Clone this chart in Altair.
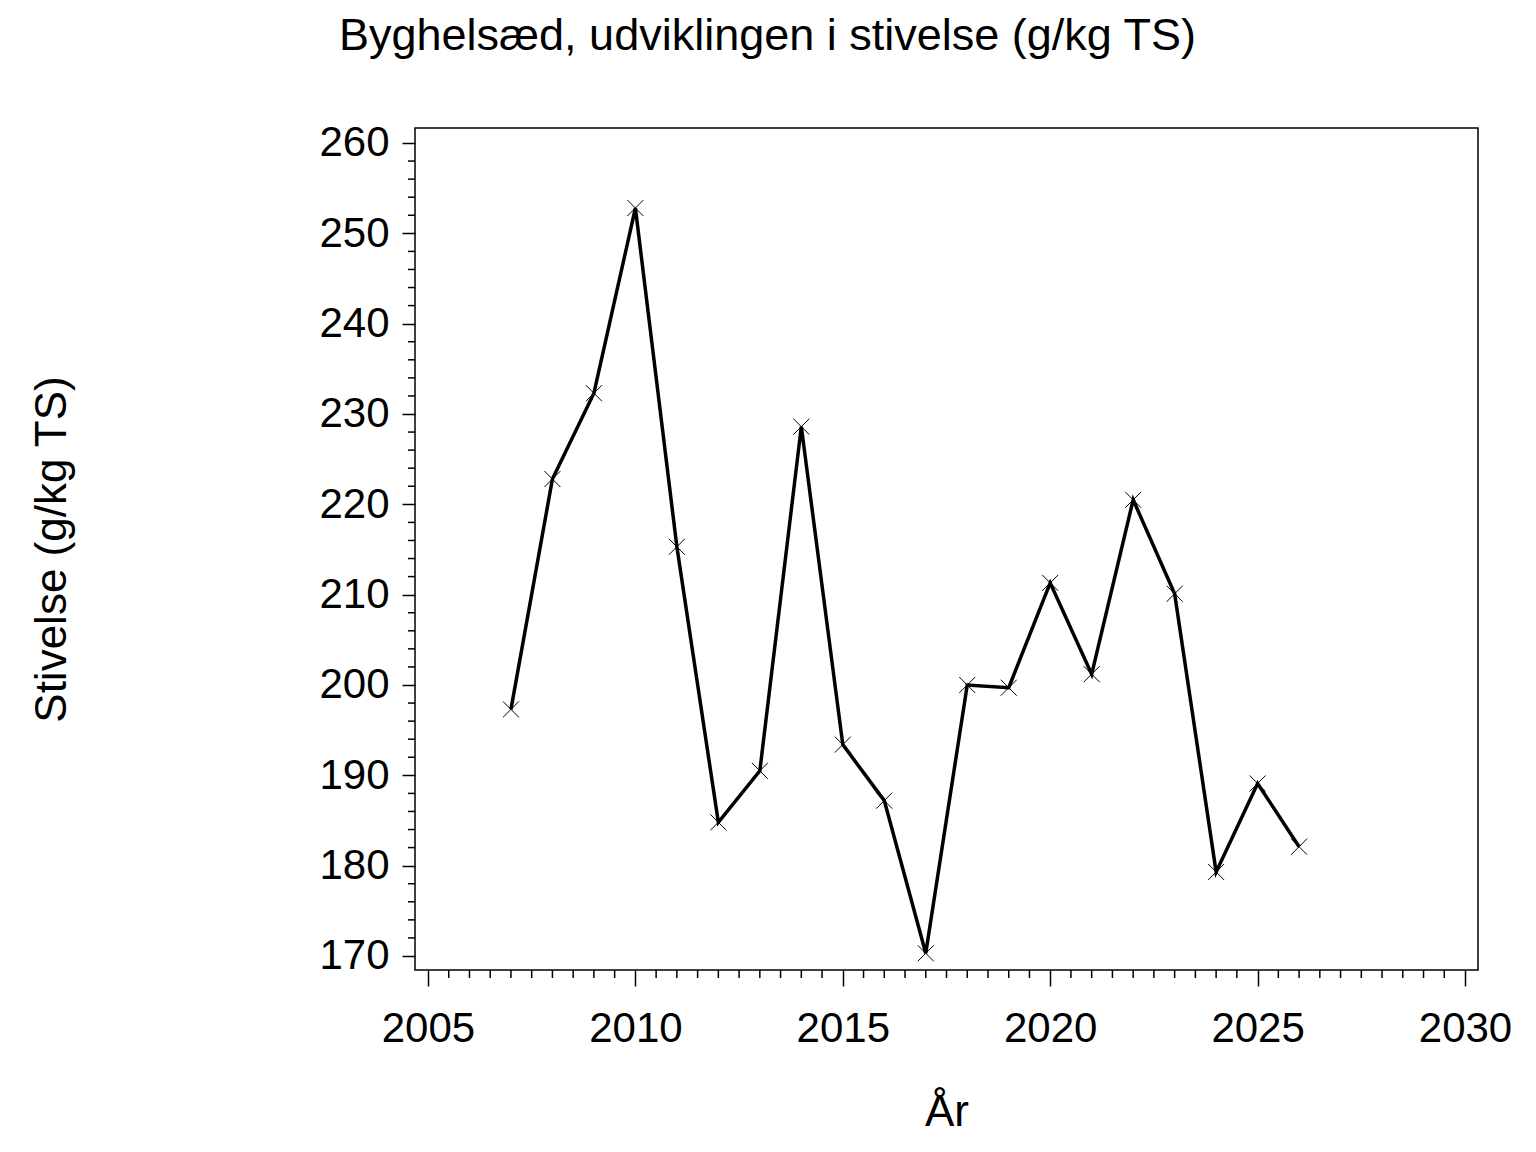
import altair as alt
import pandas as pd

years = [2007, 2008, 2009, 2010, 2011, 2012, 2013, 2014, 2015, 2016,
         2017, 2018, 2019, 2020, 2021, 2022, 2023, 2024, 2025, 2026]
stivelse = [197.3, 222.8, 232.3, 252.8, 215.3, 184.8, 190.5, 228.6, 193.4, 187.2,
            170.3, 200.0, 199.7, 211.3, 201.2, 220.5, 210.1, 179.3, 189.1, 182.1]

x_major = [2005, 2010, 2015, 2020, 2025, 2030]
x_minor = [2005 + 0.5 * i for i in range(51) if (i % 10) != 0]
y_major = [170, 180, 190, 200, 210, 220, 230, 240, 250, 260]
y_minor = [v for v in range(170, 262, 2) if v % 10 != 0]

FONT = "Liberation Sans"
W, H = 1063, 842

df = pd.DataFrame({"year": years, "val": stivelse})
xs = alt.Scale(domain=[2004.687, 2030.313], nice=False, zero=False)
ys = alt.Scale(domain=[168.45, 261.66], nice=False, zero=False)

xaxis = alt.Axis(values=x_major, format="d", tickSize=16, tickWidth=1.5, tickColor="black",
                 labelPadding=22, labelFontSize=42, labelFont=FONT, labelColor="black",
                 domain=False, grid=False, title="År", titleFont=FONT, titleFontSize=44,
                 titleFontWeight="normal", titleColor="black", titleX=W / 2, titleY=155,
                 titleBaseline="alphabetic", titleAlign="center", labelFlush=False)
yaxis = alt.Axis(values=y_major, format="d", tickSize=13, tickWidth=1.5, tickColor="black",
                 labelPadding=13, labelFontSize=42, labelFont=FONT, labelColor="black",
                 domain=False, grid=False, title="Stivelse (g/kg TS)", titleFont=FONT,
                 titleFontSize=44, titleFontWeight="normal", titleColor="black",
                 titleX=-350, titleY=H / 2, titleAngle=270, titleBaseline="alphabetic",
                 titleAlign="center", labelFlush=False)

line = alt.Chart(df).mark_line(color="black", strokeWidth=3.5).encode(
    x=alt.X("year:Q", scale=xs, axis=xaxis),
    y=alt.Y("val:Q", scale=ys, axis=yaxis),
)
pts = alt.Chart(df).mark_point(shape="M-1,-1L1,1M-1,1L1,-1", size=256, filled=False,
                               stroke="black", strokeWidth=1, opacity=1).encode(
    x=alt.X("year:Q", scale=xs),
    y=alt.Y("val:Q", scale=ys),
)
xminor = alt.Chart(pd.DataFrame({"v": x_minor})).mark_rule(color="black", strokeWidth=1.5).encode(
    x=alt.X("v:Q", scale=xs),
    y=alt.value(H),
    y2=alt.value(H + 8),
)
yminor = alt.Chart(pd.DataFrame({"v": y_minor})).mark_rule(color="black", strokeWidth=1.5).encode(
    y=alt.Y("v:Q", scale=ys),
    x=alt.value(-7),
    x2=alt.value(0),
)

chart = alt.layer(xminor, yminor, line, pts).properties(
    width=W, height=H,
    title=alt.TitleParams("Byghelsæd, udviklingen i stivelse (g/kg TS)", font=FONT,
                          fontSize=45, fontWeight="normal", color="black", anchor="middle",
                          dx=-179, offset=27, baseline="alphabetic"),
    autosize=alt.AutoSizeParams(type="none"),
    padding={"left": 407, "top": 120, "right": 50, "bottom": 174},
    background="white",
).configure_view(stroke="black", strokeWidth=1.5)

chart.save("out.html", embed_options={"renderer": "svg", "actions": False})
